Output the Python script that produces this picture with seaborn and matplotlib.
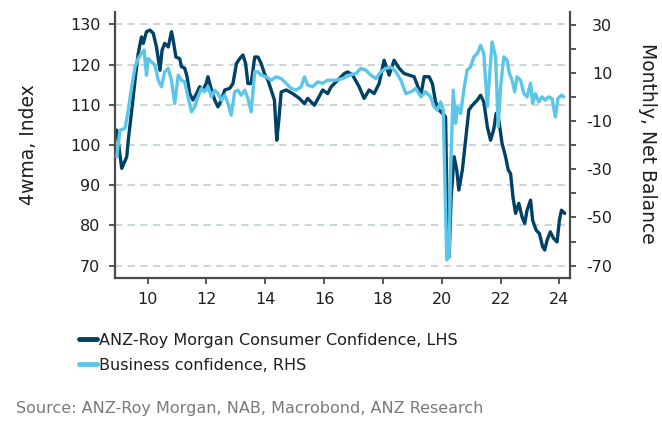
import numpy as np
import pandas as pd
import matplotlib
matplotlib.use("Agg")
import matplotlib.pyplot as plt
import seaborn as sns

# ---------------- data ----------------
cons_year = [2008.95, 2009.12, 2009.29, 2009.34, 2009.46, 2009.57, 2009.68, 2009.79, 2009.85, 2009.96,
             2010.08, 2010.19, 2010.30, 2010.42, 2010.49, 2010.58, 2010.70, 2010.81, 2010.87, 2010.96,
             2011.09, 2011.15, 2011.26, 2011.34, 2011.43, 2011.54, 2011.66, 2011.77, 2011.88, 2011.99,
             2012.05, 2012.17, 2012.28, 2012.39, 2012.51, 2012.62, 2012.79, 2012.90, 2013.02, 2013.13,
             2013.24, 2013.33, 2013.41, 2013.52, 2013.64, 2013.75, 2013.86, 2013.97, 2014.09, 2014.20,
             2014.31, 2014.39, 2014.46, 2014.54, 2014.71, 2014.93, 2015.16, 2015.33, 2015.44, 2015.67,
             2015.95, 2016.12, 2016.24, 2016.46, 2016.69, 2016.80, 2016.97, 2017.19, 2017.36, 2017.53,
             2017.70, 2017.87, 2018.04, 2018.21, 2018.38, 2018.55, 2018.72, 2018.89, 2019.06, 2019.17,
             2019.29, 2019.40, 2019.57, 2019.68, 2019.79, 2019.91, 2020.02, 2020.13, 2020.19, 2020.25,
             2020.32, 2020.42, 2020.51, 2020.58, 2020.70, 2020.81, 2020.92, 2021.04, 2021.21, 2021.32,
             2021.43, 2021.55, 2021.66, 2021.77, 2021.85, 2021.94, 2022.05, 2022.17, 2022.26, 2022.34,
             2022.42, 2022.51, 2022.62, 2022.73, 2022.82, 2022.90, 2023.02, 2023.09, 2023.21, 2023.32,
             2023.43, 2023.50, 2023.58, 2023.69, 2023.80, 2023.92, 2024.00, 2024.07, 2024.18]
cons_val = [103.7, 94.2, 97.1, 101.2, 108.7, 116.1, 122.8, 126.9, 125.3, 128.2,
            128.6, 127.8, 124.4, 118.6, 123.6, 125.3, 124.4, 128.2, 126.1, 121.9,
            121.5, 119.5, 119.1, 117.0, 112.8, 111.2, 112.8, 114.5, 113.7, 115.3,
            117.0, 113.7, 111.2, 109.5, 111.2, 113.7, 114.1, 115.3, 120.3, 121.5,
            122.4, 120.3, 115.3, 115.3, 121.9, 121.9, 120.3, 117.8, 116.1, 113.7,
            111.2, 101.2, 106.2, 113.2, 113.7, 112.8, 111.6, 110.3, 111.6, 109.9,
            113.7, 112.8, 114.5, 116.1, 117.8, 118.2, 117.4, 114.5, 111.6, 113.7,
            112.8, 115.3, 121.1, 117.4, 121.1, 119.1, 117.8, 117.4, 117.0, 114.9,
            112.4, 117.0, 117.0, 115.3, 110.7, 108.7, 107.9, 107.0, 79.7, 72.2,
            87.1, 97.1, 93.8, 88.8, 93.8, 101.2, 108.7, 109.9, 111.2, 112.4,
            110.7, 104.5, 101.2, 104.0, 107.9, 106.2, 100.4, 97.1, 93.8, 92.9,
            87.1, 83.0, 85.5, 82.1, 80.5, 83.8, 86.3, 81.3, 78.8, 78.0,
            74.7, 73.9, 76.3, 78.4, 76.8, 75.9, 81.3, 83.8, 83.0]

bus_year = [2008.95, 2009.06, 2009.23, 2009.34, 2009.46, 2009.57, 2009.68, 2009.79, 2009.88, 2009.96,
            2010.02, 2010.13, 2010.25, 2010.36, 2010.47, 2010.58, 2010.70, 2010.81, 2010.92, 2011.04,
            2011.15, 2011.26, 2011.37, 2011.49, 2011.60, 2011.71, 2011.83, 2011.94, 2012.05, 2012.17,
            2012.28, 2012.39, 2012.51, 2012.62, 2012.73, 2012.84, 2012.96, 2013.07, 2013.18, 2013.30,
            2013.41, 2013.52, 2013.64, 2013.75, 2013.86, 2014.03, 2014.20, 2014.37, 2014.54, 2014.71,
            2014.88, 2015.05, 2015.22, 2015.33, 2015.44, 2015.61, 2015.78, 2015.95, 2016.12, 2016.40,
            2016.63, 2016.86, 2017.08, 2017.25, 2017.42, 2017.59, 2017.76, 2017.93, 2018.10, 2018.27,
            2018.44, 2018.61, 2018.78, 2018.95, 2019.12, 2019.29, 2019.45, 2019.62, 2019.74, 2019.85,
            2019.96, 2020.05, 2020.17, 2020.25, 2020.30, 2020.39, 2020.47, 2020.53, 2020.64, 2020.75,
            2020.86, 2020.98, 2021.09, 2021.21, 2021.32, 2021.43, 2021.55, 2021.71, 2021.83, 2021.92,
            2022.00, 2022.11, 2022.22, 2022.30, 2022.39, 2022.48, 2022.56, 2022.68, 2022.79, 2022.90,
            2023.02, 2023.09, 2023.18, 2023.30, 2023.41, 2023.52, 2023.63, 2023.75, 2023.86, 2023.95,
            2024.07, 2024.15]
bus_val = [-24.8, -13.8, -13.1, -5.5, 4.2, 12.4, 15.9, 18.0, 19.4, 9.0,
           15.9, 14.5, 13.1, 6.9, 4.2, 10.4, 11.8, 6.9, -2.7, 9.0,
           6.9, 6.2, 0.0, -6.2, -4.1, 0.0, 3.5, 2.1, 4.2, 0.0,
           2.8, 1.4, -1.4, 0.7, -2.7, -7.6, 2.1, 2.8, 0.7, 2.8,
           -0.7, -6.2, 10.4, 10.4, 9.0, 8.3, 6.9, 8.3, 7.6, 5.6,
           3.5, 2.8, 4.2, 8.3, 4.9, 4.2, 6.2, 5.6, 6.9, 6.9,
           7.6, 9.0, 9.7, 11.8, 11.1, 9.0, 7.6, 10.4, 11.8, 12.4,
           10.4, 6.9, 1.4, 2.1, 3.5, 0.0, 2.1, 0.0, -4.1, -5.5,
           -2.1, -5.5, -67.6, -66.3, -30.0, 2.8, -11.0, -4.1, -6.9, 2.8,
           11.1, 12.4, 16.6, 18.0, 21.4, 18.0, -4.1, 22.8, 16.6, -12.4,
           4.2, 16.6, 15.2, 9.7, 6.9, 2.1, 8.3, 6.9, 1.4, 0.0,
           5.6, -2.7, 1.4, -2.1, 0.0, -1.4, 0.0, -0.7, -8.3, -0.7,
           0.7, 0.0]

x_ticks = [2010, 2012, 2014, 2016, 2018, 2020, 2022, 2024]
x_tick_labels = ["10", "12", "14", "16", "18", "20", "22", "24"]
left_ticks = [70, 80, 90, 100, 110, 120, 130]
right_major = [30, 10, -10, -30, -50, -70]
right_major_labels = ["30", "10", "-10", "-30", "-50", "-70"]
right_minor = [20, 0, -20, -40, -60]

series_labels = ["ANZ-Roy Morgan Consumer Confidence, LHS", "Business confidence, RHS"]
left_label = "4wma, Index"
right_label = "Monthly, Net Balance"
source_text = "Source: ANZ-Roy Morgan, NAB, Macrobond, ANZ Research"

# ---------------- style ----------------
sns.set_style("white")
plt.rcParams["font.family"] = ["DejaVu Sans"]
DARK = "#004165"
LIGHT = "#5BC6E8"
SPINE = "#4a4a4a"
TXT = "#1e1e1e"
GRID = "#C5D1D9"
FS = 11.5

fig = plt.figure(figsize=(6.62, 4.21), dpi=100)
ax = fig.add_axes([115 / 662, 1 - 277.7 / 421, 455 / 662, 265.7 / 421])
ax2 = ax.twinx()

cons = pd.DataFrame({"year": cons_year, "value": cons_val})
bus = pd.DataFrame({"year": bus_year, "value": bus_val})

sns.lineplot(data=cons, x="year", y="value", ax=ax, color=DARK, lw=2.4,
             estimator=None, sort=False, legend=False)
sns.lineplot(data=bus, x="year", y="value", ax=ax2, color=LIGHT, lw=2.4,
             estimator=None, sort=False, legend=False)

ax.set_xlim(2008.89, 2024.36)
ax.set_ylim(67.0, 133.1)
ax2.set_ylim(-75.0, 35.2)

ax.grid(axis="y", color=GRID, ls=(0, (4, 3)), lw=1.3)
ax.grid(axis="x", visible=False)
ax.set_axisbelow(True)

for s in ["top", "right"]:
    ax.spines[s].set_visible(False)
for s in ["top", "left", "bottom"]:
    ax2.spines[s].set_visible(False)
for a, names in [(ax, ["left", "bottom"]), (ax2, ["right"])]:
    for s in names:
        a.spines[s].set_color(SPINE)
        a.spines[s].set_linewidth(1.6)

ax.set_xticks(x_ticks)
ax.set_xticklabels(x_tick_labels)
ax.set_yticks(left_ticks)
ax.set_yticklabels([str(v) for v in left_ticks])
ax2.set_yticks(right_major)
ax2.set_yticklabels(right_major_labels)
ax2.set_yticks(right_minor, minor=True)

ax.tick_params(axis="both", which="major", direction="out", length=4.5, width=1.3,
               color=SPINE, labelsize=FS, labelcolor=TXT, pad=6,
               bottom=True, left=True, top=False, right=False)
ax2.tick_params(axis="y", which="both", direction="out", length=4.5, width=1.3,
                color=SPINE, labelsize=FS, labelcolor=TXT, pad=26,
                right=True, left=False, labelright=True, labelleft=False)
for lbl in ax2.get_yticklabels():
    lbl.set_horizontalalignment("right")

ax.set_xlabel("")
ax.set_ylabel("")
ax2.set_ylabel("")

fig.text(28 / 662, 1 - 145 / 421, left_label, rotation=90, ha="center", va="center",
         fontsize=13.5, color=TXT)
fig.text(648 / 662, 1 - 143 / 421, right_label, rotation=270, ha="center", va="center",
         fontsize=13.5, color=TXT)

handles = [plt.Line2D([], [], color=DARK, lw=3.5), plt.Line2D([], [], color=LIGHT, lw=3.5)]
fig.legend(handles, series_labels, loc="upper left", bbox_to_anchor=(79 / 662, 1 - 333 / 421),
           frameon=False, fontsize=FS, handlelength=1.15, handletextpad=0.1,
           borderpad=0, borderaxespad=0, labelspacing=0.6, labelcolor=TXT)

fig.text(16 / 662, 1 - 408 / 421, source_text, ha="left", va="center",
         fontsize=FS, color="#7a7a7a")

fig.savefig("out.png", dpi=100)
